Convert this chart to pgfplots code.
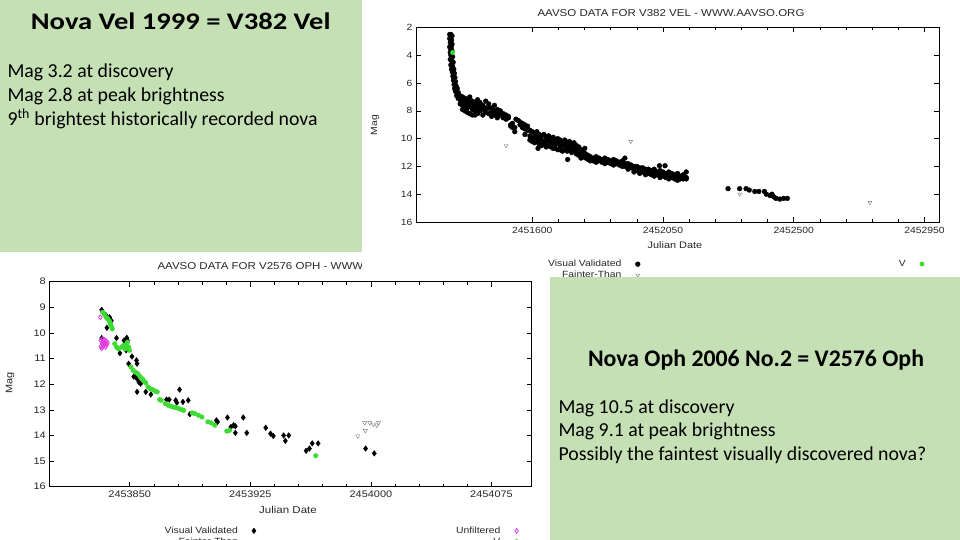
\documentclass[border=0pt]{standalone}
\usepackage{fontspec}
\setmainfont{Carlito}
\newfontfamily\widetitle[FakeStretch=1.2]{Carlito}
\newfontfamily\chartfont[FakeStretch=1.15]{Liberation Sans}
\usepackage{pgfplots}
\pgfplotsset{compat=1.18}
\definecolor{boxgreen}{RGB}{197,224,180}
\definecolor{vgreen}{RGB}{60,220,50}
\definecolor{umag}{RGB}{225,60,225}
\definecolor{ftgray}{RGB}{120,120,120}
\definecolor{ctext}{RGB}{40,40,40}
\pgfplotsset{
 novabase/.style={scale only axis, anchor=south west, axis line style={line width=0.8pt,black},
   tick align=inside, tick pos=both, major tick length=5pt, minor tick length=3pt,
   tick style={line width=0.6pt, black}, y dir=reverse, clip=true,
   /pgf/number format/assume math mode=true,
   legend cell align=right, legend plot pos=right},
 topgeom/.style={novabase, at={(416pt,318pt)}, width=523pt, height=194.5pt,
   xmin=1200, xmax=3000, ymin=2, ymax=16},
 botgeom/.style={novabase, at={(49.3pt,53.3pt)}, width=482.4pt, height=205pt,
   xmin=3800, xmax=4100, ymin=8, ymax=16},
 legA/.style={legend style={draw=none, fill=none, inner sep=0pt, row sep=-1pt,
   column sep=12pt, font=\chartfont\fontsize{9}{10}\selectfont, text=ctext}},
}
\begin{document}
\begin{tikzpicture}
\useasboundingbox (0pt,0pt) rectangle (960pt,540pt);
\fill[white] (0pt,0pt) rectangle (960pt,540pt);
% ================= bottom chart : V2576 Oph =================
\begin{axis}[botgeom, legA,
  xtick={3850,3925,4000,4075}, xticklabels={2453850,2453925,2454000,2454075},
  minor x tick num=4, ytick={8,9,...,16},
  ticklabel style={font=\chartfont\fontsize{9.5}{10}\selectfont, text=ctext},
  xticklabel style={yshift=-1pt},
  legend style={at={(0.429,-0.185)}, anchor=north east}]
\addplot[only marks, mark=diamond*, mark size=2.8pt, black] table[row sep=\\,header=false]{
3832.6 9.10\\3834.3 9.26\\3835.4 9.32\\3837.1 9.45\\3837.5 9.39\\3837.9 9.52\\3838.6 9.52\\
3835.8 9.80\\3832.6 10.20\\3841.8 10.20\\3843.9 10.79\\3846.5 10.29\\3848.2 10.19\\3848.6 10.29\\
3847.8 10.68\\3849.3 11.20\\3851.4 10.92\\3854.2 11.07\\3854.6 11.20\\3852.5 11.70\\3853.6 11.72\\
3854.6 11.79\\3855.7 11.92\\3856.8 11.98\\3854.6 12.30\\3860.0 12.30\\3863.2 12.40\\3872.9 12.60\\
3874.6 12.60\\3878.6 12.63\\3879.3 12.72\\3881.0 12.21\\3883.1 12.69\\3886.4 12.63\\3887.4 13.17\\
3903.9 13.41\\3904.6 13.47\\3910.8 13.30\\3912.9 13.67\\3914.6 13.60\\3915.7 13.64\\3915.7 13.90\\
3920.6 13.30\\3922.8 13.90\\3934.6 13.70\\3937.6 13.93\\3939.3 14.02\\3945.7 14.00\\3946.8 14.21\\
3948.9 14.00\\3959.7 14.60\\3961.8 14.51\\3963.5 14.31\\3967.2 14.31\\3996.7 14.51\\4002.1 14.70\\
};
\addlegendentry{Visual Validated}
\addplot[only marks, mark=triangle, mark size=2.4pt, ftgray, mark options={rotate=180}] table[row sep=\\,header=false]{
3991.8 14.02\\3996.5 13.81\\3996.1 13.51\\3999.3 13.51\\4001.4 13.56\\4003.6 13.60\\4004.7 13.51\\
};
\addlegendentry{Fainter-Than}
\end{axis}
\begin{axis}[botgeom, legA, hide axis,
  legend style={at={(0.974,-0.185)}, anchor=north east}]
\addplot[only marks, mark=diamond, mark size=2.4pt, umag, thick] table[row sep=\\,header=false]{
3831.7 9.39\\3832.1 10.29\\3833.2 10.23\\3834.3 10.27\\3835.4 10.32\\3832.8 10.42\\3833.9 10.49\\
3834.9 10.40\\3832.1 10.52\\3833.2 10.55\\3835.8 10.45\\3834.3 10.36\\3833.0 10.35\\3834.5 10.45\\
3832.5 10.60\\3835.0 10.55\\3836.2 10.38\\
};
\addlegendentry{Unfiltered}
\addplot[only marks, mark=*, mark size=2.3pt, vgreen] table[row sep=\\,header=false]{
3833.2 9.19\\3834.3 9.28\\3835.4 9.39\\3836.4 9.45\\3837.5 9.54\\3837.9 9.65\\3838.6 9.75\\3839.2 9.84\\
3840.7 10.42\\3841.8 10.55\\3842.9 10.62\\3845.0 10.55\\3846.1 10.49\\3847.1 10.62\\3848.2 10.49\\
3849.3 10.55\\3849.9 10.68\\3848.6 10.36\\3850.8 11.33\\3852.1 11.46\\3853.6 11.53\\3855.1 11.59\\
3856.4 11.70\\3857.9 11.79\\3858.9 11.88\\3860.0 11.95\\3861.5 12.11\\3862.8 12.18\\3864.3 12.21\\
3865.8 12.27\\3867.1 12.30\\3868.6 12.60\\3869.6 12.63\\3872.2 12.76\\3873.9 12.82\\3875.6 12.86\\
3877.1 12.89\\3878.6 12.91\\3880.4 12.95\\3882.1 12.99\\3883.6 13.02\\3888.9 13.12\\3890.6 13.15\\
3892.8 13.21\\3894.9 13.28\\3898.6 13.47\\3900.7 13.51\\3902.9 13.60\\3910.4 13.83\\3912.1 13.80\\
3965.7 14.79\\
};
\addlegendentry{V}
\end{axis}
\node[anchor=west, font=\chartfont\fontsize{10}{11}\selectfont, text=ctext] at (154pt,274.3pt) {AAVSO DATA FOR V2576 OPH - WWW.AAVSO.ORG};
\node[rotate=90, font=\chartfont\fontsize{9.5}{10}\selectfont, text=ctext] at (10pt,157pt) {Mag};
\node[font=\chartfont\fontsize{10}{11}\selectfont, text=ctext] at (288pt,30pt) {Julian Date};
% ================= top image background =================
\fill[white] (362pt,262pt) rectangle (960pt,540pt);
% ================= top chart : V382 Vel =================
\begin{axis}[topgeom, legA,
  xtick={1600,2050,2500,2950}, xticklabels={2451600,2452050,2452500,2452950},
  minor x tick num=4, ytick={2,4,...,16},
  ticklabel style={font=\chartfont\fontsize{9}{10}\selectfont, text=ctext},
  xticklabel style={yshift=-2pt},
  legend style={at={(0.429,-0.185)}, anchor=north east}]
\addplot[only marks, mark=*, mark size=2.4pt, black] table[row sep=\\,header=false]{
1316 2.5\\1320 2.5\\1324 2.6\\1316 2.8\\1322 2.9\\1318 3.1\\1324 3.2\\1316 3.4\\1321 3.5\\1318 3.8\\
1324 3.7\\1320 4.0\\1326 4.1\\1318 4.3\\1323 4.4\\1328 4.5\\1320 4.7\\1326 4.8\\1322 5.0\\1330 5.0\\
1325 5.2\\1332 5.3\\1327 5.5\\1334 5.6\\1329 5.8\\1336 5.9\\1331 6.1\\1338 6.2\\1333 6.4\\1342 6.4\\
1336 6.6\\1346 6.7\\1340 6.9\\1350 6.9\\1345 7.1\\1358 7.0\\1320 3.0\\1322 3.3\\1320 3.6\\1322 4.2\\
1324 4.6\\1328 5.1\\1330 5.6\\1333 6.0\\1336 6.3\\1340 6.5\\
1352 7.2\\1352 7.5\\1360 7.0\\1360 7.3\\1360 7.6\\1360 7.9\\1368 7.1\\1368 7.4\\1368 7.7\\1368 8.0\\
1376 7.2\\1376 7.5\\1376 7.8\\1376 8.1\\1385 7.0\\1385 7.4\\1385 7.7\\1385 8.2\\1394 7.3\\1394 7.6\\
1394 7.9\\1394 8.3\\1403 7.4\\1403 7.7\\1403 8.0\\1403 8.3\\1412 7.2\\1412 7.5\\1412 7.8\\1412 8.2\\
1420 7.4\\1420 7.7\\1420 8.0\\1430 7.6\\1430 7.9\\1430 8.3\\1440 7.3\\1440 7.8\\1440 8.1\\1450 7.5\\
1450 7.8\\1450 8.2\\1460 7.8\\1460 8.1\\1460 8.4\\1470 7.6\\1470 8.0\\1470 8.3\\1480 7.9\\1480 8.2\\
1480 8.5\\1490 8.0\\1490 8.3\\1500 8.2\\1500 8.5\\1510 8.3\\1510 8.6\\1518 8.4\\1518 8.5\\
1526 9.0\\1526 9.1\\1532 8.9\\1532 9.2\\1544 8.6\\1552 8.7\\1558 8.8\\1558 9.0\\1566 8.9\\1566 9.2\\
1574 9.0\\1574 9.3\\1584 9.1\\1584 9.4\\1540 9.2\\1540 9.5\\1575 9.7\\
1592 9.4\\1592 9.8\\1592 10.1\\1600 9.5\\1600 9.9\\1600 10.2\\1608 9.6\\1608 10.0\\1608 10.3\\
1616 9.5\\1616 9.8\\1616 10.2\\1624 9.7\\1624 10.0\\1624 10.4\\1632 9.8\\1632 10.1\\1632 10.5\\
1640 9.7\\1640 10.2\\1640 10.4\\1648 9.9\\1648 10.2\\1648 10.6\\1656 9.8\\1656 10.1\\1656 10.5\\
1664 10.0\\1664 10.3\\1664 10.6\\1672 9.9\\1672 10.3\\1672 10.7\\1680 10.1\\1680 10.4\\1680 10.7\\
1688 10.0\\1688 10.3\\1688 10.8\\1696 10.1\\1696 10.5\\1696 10.8\\1704 10.2\\1704 10.5\\1704 10.9\\
1712 10.1\\1712 10.4\\1712 10.8\\1720 10.3\\1720 10.6\\1720 10.9\\1728 10.2\\1728 10.5\\1728 10.8\\
1736 10.4\\1736 10.7\\1736 11.0\\1744 10.3\\1744 10.6\\1744 10.9\\1752 10.5\\1752 10.8\\1752 11.1\\
1760 10.6\\1760 10.9\\1760 11.2\\1768 10.8\\1768 11.1\\1768 11.4\\1776 11.0\\1776 11.3\\1784 11.1\\
1784 11.4\\1792 11.2\\1792 11.5\\1800 11.3\\1800 11.6\\1810 11.4\\1810 11.6\\1820 11.3\\1820 11.5\\
1820 11.7\\1830 11.4\\1830 11.6\\1840 11.5\\1840 11.7\\1850 11.4\\1850 11.6\\1850 11.8\\1860 11.5\\
1860 11.7\\1870 11.6\\1870 11.8\\1880 11.5\\1880 11.7\\1880 11.9\\1890 11.6\\1890 11.8\\1900 11.7\\
1900 11.9\\1910 11.6\\1910 11.8\\1910 12.0\\1920 11.8\\1920 12.0\\1930 11.8\\1930 12.0\\1930 12.2\\
1940 11.9\\1940 12.1\\1950 12.0\\1950 12.2\\1950 12.4\\1960 12.0\\1960 12.3\\1970 12.1\\1970 12.3\\
1970 12.5\\1980 12.1\\1980 12.4\\1990 12.2\\1990 12.4\\1990 12.6\\2000 12.2\\2000 12.5\\2010 12.3\\
2010 12.6\\2020 12.2\\2020 12.5\\2020 12.7\\2030 12.4\\2030 12.6\\2040 12.3\\2040 12.6\\2040 12.8\\
2050 12.4\\2050 12.7\\2060 12.5\\2060 12.8\\2070 12.4\\2070 12.7\\2070 12.9\\2080 12.5\\2080 12.8\\
2090 12.6\\2090 12.9\\2100 12.5\\2100 12.8\\2100 13.0\\2110 12.7\\2110 12.9\\2120 12.6\\2120 12.9\\
2130 12.8\\2130 12.9\\
1722 11.5\\1781 10.7\\1919 11.4\\2038 11.95\\2057 11.95\\2130 12.4\\1620 10.7\\
2274 13.6\\2314 13.6\\2336 13.6\\2347 13.7\\2366 13.8\\2380 13.8\\2399 13.8\\2406 14.0\\2419 14.1\\
2425 14.0\\2432 14.2\\2439 14.3\\2452 14.35\\2465 14.3\\2478 14.3\\
};
\addlegendentry{Visual Validated}
\addplot[only marks, mark=triangle, mark size=2.2pt, ftgray, mark options={rotate=180}] table[row sep=\\,header=false]{
1510 10.5\\1939 10.2\\2314 14.0\\2762 14.6\\
};
\addlegendentry{Fainter-Than}
\end{axis}
\begin{axis}[topgeom, legA, hide axis,
  legend style={at={(0.972,-0.185)}, anchor=north east}]
\addplot[only marks, mark=*, mark size=2.2pt, vgreen] table[row sep=\\,header=false]{
1326 3.8\\
};
\addlegendentry{V}
\end{axis}
\node[font=\chartfont\fontsize{10}{11}\selectfont, text=ctext] at (671pt,526.5pt) {AAVSO DATA FOR V382 VEL - WWW.AAVSO.ORG};
\node[rotate=90, font=\chartfont\fontsize{9}{10}\selectfont, text=ctext] at (375pt,415pt) {Mag};
\node[font=\chartfont\fontsize{9.5}{10}\selectfont, text=ctext] at (675pt,295pt) {Julian Date};
% ================= green text boxes =================
\fill[boxgreen] (0pt,288.3pt) rectangle (361.7pt,540pt);
\fill[boxgreen] (550pt,0pt) rectangle (960pt,262.7pt);
\node[anchor=base, inner sep=0pt, font=\widetitle\fontsize{23.8}{28}\selectfont\bfseries] at (180.7pt,510pt) {Nova Vel 1999 = V382 Vel};
\node[anchor=base west, inner sep=0pt, font=\fontsize{19.8}{22}\selectfont] at (7.3pt,462.3pt) {Mag 3.2 at discovery};
\node[anchor=base west, inner sep=0pt, font=\fontsize{19.8}{22}\selectfont] at (7.3pt,438.3pt) {Mag 2.8 at peak brightness};
\node[anchor=base west, inner sep=0pt, font=\fontsize{19.8}{22}\selectfont] at (7.3pt,414.3pt) {9\textsuperscript{th} brightest historically recorded nova};
\node[anchor=base, inner sep=0pt, font=\fontsize{23.8}{28}\selectfont\bfseries] at (756pt,173.3pt) {Nova Oph 2006 No.2 = V2576 Oph};
\node[anchor=base west, inner sep=0pt, font=\fontsize{19.8}{22}\selectfont] at (558.3pt,126pt) {Mag 10.5 at discovery};
\node[anchor=base west, inner sep=0pt, font=\fontsize{19.8}{22}\selectfont] at (558.3pt,103.3pt) {Mag 9.1 at peak brightness};
\node[anchor=base west, inner sep=0pt, font=\fontsize{19.8}{22}\selectfont] at (558.3pt,79.3pt) {Possibly the faintest visually discovered nova?};
\end{tikzpicture}
\end{document}
